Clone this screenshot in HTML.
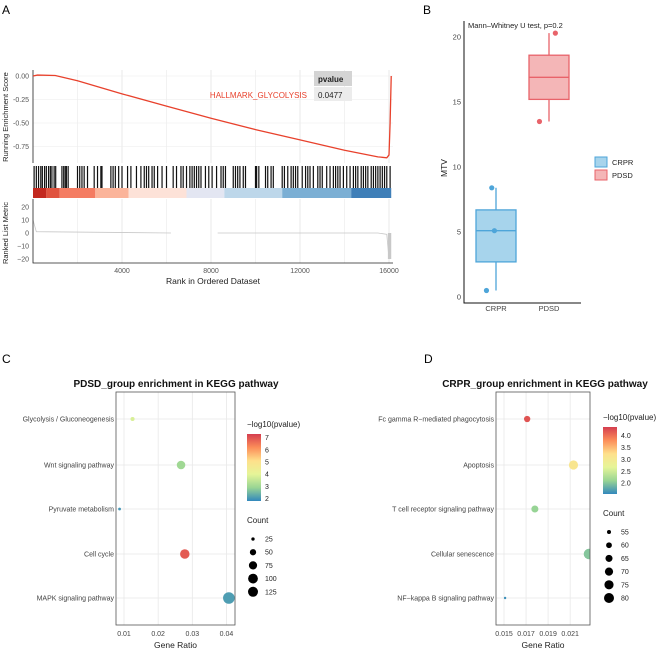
<!DOCTYPE html>
<html><head><meta charset="utf-8"><style>
body{margin:0;background:#fff;}
svg{display:block;font-family:"Liberation Sans",sans-serif;}
</style></head><body>
<svg id="s" width="669" height="651" viewBox="0 0 669 651">
<g id="A"></g>
<g id="B"></g>
<g id="C"></g>
<g id="D"></g>
</svg>
<script>
// ---- Panel A data ----
const esRanks=[0,200,1000,2000,4000,6000,8000,10000,12000,14000,15500,15900,16000,16050,16100];
const esScores=[0,0.01,0.005,-0.05,-0.19,-0.32,-0.45,-0.57,-0.68,-0.79,-0.86,-0.87,-0.84,-0.5,0.0];
const esTicks=[0,-0.25,-0.5,-0.75];
const esTickLabels=["0.00","-0.25","-0.50","-0.75"];
const rankTicks=[4000,8000,12000,16000];
const metricTicks=[20,10,0,-10,-20];
const hitRanks=[50,150,250,350,420,520,600,700,780,850,950,1020,1300,1380,1450,1500,1580,2000,2100,2200,2300,2450,2750,2900,3050,3100,3500,3600,3700,3850,4000,4250,4400,4650,4850,5000,5100,5200,5350,5450,5600,5800,6000,6300,6450,6650,6750,6900,7050,7150,7250,7350,7450,7550,7750,7900,8050,8250,8450,8550,8650,9000,9100,9200,9300,9450,9550,10000,10050,10150,10450,10550,10700,10800,11200,11300,11450,11600,11700,11800,11900,12100,12250,12350,12450,12600,12800,12900,13000,13200,13350,13500,13600,13700,13800,13950,14100,14250,14400,14500,14600,14750,14850,14950,15050,15200,15300,15400,15500,15600,15700,15800,15900,16050];
const bandStarts=[0,600,1200,2800,4300,6900,8600,11200,14300];
const bandColors=["#C3291F","#E0533F","#F47C62","#FBB49A","#FDE2D8","#E3E6F2","#BDD7EA","#7BAFD4","#3F7FB8"];
// ---- Panel B data ----
const groups=["CRPR","PDSD"];
const q1=[2.7,15.2],med=[5.1,16.9],q3=[6.7,18.6],wLo=[0.5,13.5],wHi=[8.4,20.3];
const ptGroup=[0,0,0,1,1];
const ptVal=[0.5,5.1,8.4,13.5,20.3];
const ptJitter=[-0.18,-0.03,-0.08,-0.18,0.12];
const mtvTicks=[0,5,10,15,20];
// ---- Panel C data ----
const cTerms=["Glycolysis / Gluconeogenesis","Wnt signaling pathway","Pyruvate metabolism","Cell cycle","MAPK signaling pathway"];
const cRatio=[0.0125,0.0267,0.0087,0.0278,0.0407];
const cLogP=[3.8,3.0,2.0,6.9,2.1];
const cCount=[30,80,22,95,135];
const cXTicks=[0.01,0.02,0.03,0.04];
const cColTicks=[2,3,4,5,6,7];
const cSizeTicks=[25,50,75,100,125];
// ---- Panel D data ----
const dTerms=["Fc gamma R\u2212mediated phagocytosis","Apoptosis","T cell receptor signaling pathway","Cellular senescence","NF\u2212kappa B signaling pathway"];
const dRatio=[0.0171,0.0213,0.0178,0.0227,0.0151];
const dLogP=[4.2,3.1,2.1,2.0,1.6];
const dCount=[62,75,65,82,52];
const dXTicks=[0.015,0.017,0.019,0.021];
const dColTicks=[2.0,2.5,3.0,3.5,4.0];
const dSizeTicks=[55,60,65,70,75,80];

const NS="http://www.w3.org/2000/svg";
function mk(p,tag,at,name,txt){const e=document.createElementNS(NS,tag);for(const k in at)e.setAttribute(k,at[k]);


if(txt!==undefined)e.textContent=txt;p.appendChild(e);return e;}
const A=document.getElementById('A'),B=document.getElementById('B'),C=document.getElementById('C'),D=document.getElementById('D');

mk(A,'text',{x:2,y:14,'font-size':12},'panel-label-a','A');
mk(B,'text',{x:423,y:14,'font-size':12},'panel-label-b','B');
mk(C,'text',{x:2,y:363,'font-size':12},'panel-label-c','C');
mk(D,'text',{x:424,y:363,'font-size':12},'panel-label-d','D');

// ---- Panel A ----
const ax=r=>33+r*(389-33)/16000;
const ay=v=>76-v*94;
const my=v=>233-v*1.3;
for(let r=2000;r<=16000;r+=2000){
 mk(A,'line',{x1:ax(r),x2:ax(r),y1:70,y2:163,stroke:'#e6e6e6','stroke-width':r%4000?0.5:0.9},'grid-es');
 mk(A,'line',{x1:ax(r),x2:ax(r),y1:199,y2:263,stroke:'#e6e6e6','stroke-width':r%4000?0.5:0.9},'grid-metric');
}
esTicks.forEach((t,i)=>{mk(A,'line',{x1:33,x2:393,y1:ay(t),y2:ay(t),stroke:'#ececec','stroke-width':0.6},'grid-es-h');
 mk(A,'text',{x:29,y:ay(t)+2.5,'font-size':7,fill:'#555','text-anchor':'end'},'es-tick-label',esTickLabels[i]);});
mk(A,'line',{x1:33,x2:33,y1:70,y2:163,stroke:'#222','stroke-width':0.8},'es-y-axis');
let d='';esRanks.forEach((r,i)=>{d+=(i?'L':'M')+ax(r)+','+ay(esScores[i]);});
mk(A,'path',{d:d,fill:'none',stroke:'#E8412C','stroke-width':1.3},'es-curve');
mk(A,'rect',{x:314,y:71,width:38,height:15,fill:'#d4d4d4'},'pvalue-header-cell');
mk(A,'text',{x:318,y:82,'font-size':8,'font-weight':'bold',fill:'#222'},'pvalue-header','pvalue');
mk(A,'rect',{x:314,y:87,width:38,height:14,fill:'#ececec'},'pvalue-value-cell');
mk(A,'text',{x:318,y:98,'font-size':8,fill:'#222'},'pvalue-value','0.0477');
mk(A,'text',{x:307,y:98,'font-size':8,fill:'#E8412C','text-anchor':'end'},'gene-set-name','HALLMARK_GLYCOLYSIS');
mk(A,'text',{transform:'translate(8,117) rotate(-90)','font-size':7.5,fill:'#222','text-anchor':'middle'},'es-y-title','Running Enrichment Score');
hitRanks.forEach(r=>mk(A,'line',{x1:ax(r),x2:ax(r),y1:166,y2:188,stroke:'#111','stroke-width':1.2},'hit-line'));
bandStarts.forEach((s,i)=>{const e=i<bandStarts.length-1?bandStarts[i+1]:16100;
 mk(A,'rect',{x:ax(s),y:188,width:ax(e)-ax(s),height:10,fill:bandColors[i]},'rank-band');});
mk(A,'path',{d:`M${ax(0)},${my(10)} L${ax(150)},${my(1)} L${ax(6200)},${my(0)} M${ax(8300)},${my(0)} L${ax(15500)},${my(0)} L${ax(15900)},${my(-1)} L${ax(16000)},${my(-20)}`,fill:'none',stroke:'#c8c8c8','stroke-width':0.8},'ranked-metric');
mk(A,'rect',{x:ax(15950),y:my(0),width:ax(16100)-ax(15950),height:my(-20)-my(0),fill:'#c8c8c8'},'ranked-metric-tail');
metricTicks.forEach(t=>mk(A,'text',{x:29,y:my(t)+2.5,'font-size':7,fill:'#555','text-anchor':'end'},'metric-tick-label',String(t).replace('-','\u2212')));
mk(A,'path',{d:'M33,199 L33,263 L393,263',fill:'none',stroke:'#222','stroke-width':0.8},'metric-axes');
rankTicks.forEach(t=>mk(A,'text',{x:ax(t),y:273,'font-size':7,fill:'#555','text-anchor':'middle'},'rank-tick-label',t));
mk(A,'text',{x:213,y:284,'font-size':8.5,fill:'#222','text-anchor':'middle'},'x-axis-title','Rank in Ordered Dataset');
mk(A,'text',{transform:'translate(8,233) rotate(-90)','font-size':7.5,fill:'#222','text-anchor':'middle'},'metric-y-title','Ranked List Metric');

// ---- Panel B ----
const bx=g=>496+g*53, by=v=>297-v*13;
const bStroke=['#4EA5D9','#E8636A'],bFill=['#A7D4EC','#F4B6B7'];
groups.forEach((g,i)=>{
 mk(B,'line',{x1:bx(i),x2:bx(i),y1:by(wLo[i]),y2:by(wHi[i]),stroke:bStroke[i],'stroke-width':1.3},'whisker-'+g);
 mk(B,'rect',{x:bx(i)-20,y:by(q3[i]),width:40,height:by(q1[i])-by(q3[i]),fill:bFill[i],stroke:bStroke[i],'stroke-width':1.3},'box-'+g);
 mk(B,'line',{x1:bx(i)-20,x2:bx(i)+20,y1:by(med[i]),y2:by(med[i]),stroke:bStroke[i],'stroke-width':1.3},'median-'+g);
 mk(B,'text',{x:bx(i),y:311,'font-size':7.5,fill:'#444','text-anchor':'middle'},'x-tick-label',g);
});
ptVal.forEach((v,i)=>mk(B,'circle',{cx:bx(ptGroup[i])+ptJitter[i]*53,cy:by(v),r:2.6,fill:bStroke[ptGroup[i]]},'point'));
mtvTicks.forEach(t=>mk(B,'text',{x:461,y:by(t)+2.5,'font-size':7.5,fill:'#444','text-anchor':'end'},'y-tick-label',t));
mk(B,'path',{d:'M464,21 L464,303 L581,303',fill:'none',stroke:'#111','stroke-width':1},'b-axes');
mk(B,'text',{x:468,y:28,'font-size':7.5,fill:'#222'},'test-annotation','Mann\u2013Whitney U test, p=0.2');
mk(B,'text',{transform:'translate(447,168) rotate(-90)','font-size':8.5,fill:'#222','text-anchor':'middle'},'y-axis-title','MTV');
groups.forEach((g,i)=>{mk(B,'rect',{x:595,y:157+i*13,width:12,height:10,fill:bFill[i],stroke:bStroke[i],'stroke-width':1},'legend-key-'+g);
 mk(B,'text',{x:612,y:165+i*13,'font-size':7.5,fill:'#222'},'legend-entry',g);});

// ---- colour/size helpers ----
const stops=['#3288BD','#99D594','#E6F598','#FEE08B','#FC8D59','#D53E4F'];
function hx(c){return [1,3,5].map(i=>parseInt(c.substr(i,2),16));}
function col(t){t=Math.max(0,Math.min(1,t));const p=t*(stops.length-1),i=Math.min(stops.length-2,Math.floor(p)),f=p-i;
 const a=hx(stops[i]),b=hx(stops[i+1]);return 'rgb('+a.map((v,k)=>Math.round(v+(b[k]-v)*f)).join(',')+')';}
function dot(P,cfg){
 const {x0,x1,terms,ratio,logp,count,xt,xtLab,xmin,xmax,pmin,pmax,cmin,cmax,rmin,rmax,title,tx,cbx,cbTop,cbBot,colT,sizeT,sizeY0,clip}=cfg;
 const rowY=[419,465,509,554,598];
 const X=v=>x0+(v-xmin)/(xmax-xmin)*(x1-x0);
 const R=c=>Math.sqrt(rmin*rmin+(c-cmin)/(cmax-cmin)*(rmax*rmax-rmin*rmin));
 mk(P,'text',{x:tx,y:387,'font-size':10,'font-weight':'bold',fill:'#111','text-anchor':'middle'},'chart-title',title);
 xt.forEach((t,i)=>{mk(P,'line',{x1:X(t),x2:X(t),y1:392,y2:625,stroke:'#e8e8e8','stroke-width':0.8},'grid-v');
  mk(P,'text',{x:X(t),y:636,'font-size':7,fill:'#444','text-anchor':'middle'},'x-tick-label',xtLab[i]);});
 terms.forEach((t,i)=>{mk(P,'line',{x1:x0-8,x2:x1,y1:rowY[i],y2:rowY[i],stroke:'#e8e8e8','stroke-width':0.8},'grid-h');
  mk(P,'text',{x:x0-10,y:rowY[i]+2.5,'font-size':7,fill:'#444','text-anchor':'end'},'y-tick-label',t);});
 const g=mk(P,'g',{'clip-path':'url(#'+clip+')'},'points');
 terms.forEach((t,i)=>mk(g,'circle',{cx:X(ratio[i]),cy:rowY[i],r:R(count[i]),fill:col((logp[i]-pmin)/(pmax-pmin))},'dot'));
 mk(P,'rect',{x:x0-8,y:392,width:x1-x0+8,height:233,fill:'none',stroke:'#555','stroke-width':0.8},'plot-border');
 mk(P,'text',{x:(x0+x1)/2-4,y:648,'font-size':8.5,fill:'#222','text-anchor':'middle'},'x-axis-title','Gene Ratio');
 const gid=clip+'g';const defs=mk(P,'defs',{},'defs');const lg=mk(defs,'linearGradient',{id:gid,x1:0,y1:1,x2:0,y2:0},'gradient');
 stops.forEach((s,i)=>mk(lg,'stop',{offset:i/(stops.length-1),'stop-color':s},'grad-stop'));
 const cp=mk(defs,'clipPath',{id:clip},'clip');mk(cp,'rect',{x:x0-8,y:392,width:x1-x0+8,height:233},'clip-rect');
 mk(P,'text',{x:cbx,y:cbTop-7,'font-size':8,fill:'#222'},'colorbar-title','\u2212log10(pvalue)');
 mk(P,'rect',{x:cbx,y:cbTop,width:14,height:cbBot-cbTop,fill:'url(#'+gid+')'},'colorbar');
 colT.forEach(t=>{const yy=cbBot-(t-pmin)/(pmax-pmin)*(cbBot-cbTop);
  mk(P,'text',{x:cbx+18,y:yy+2.5,'font-size':7,fill:'#222'},'colorbar-label',Number.isInteger(t)&&pmax>5?t:t.toFixed(1));});
 mk(P,'text',{x:cbx,y:sizeY0-10,'font-size':8,fill:'#222'},'size-legend-title','Count');
 sizeT.forEach((s,i)=>{const yy=sizeY0+6+i*13.2;
  mk(P,'circle',{cx:cbx+6,cy:yy,r:Math.min(R(s),5),fill:'#000'},'size-legend-dot');
  mk(P,'text',{x:cbx+18,y:yy+2.5,'font-size':7,fill:'#222'},'size-legend-label',s);});
}
dot(C,{x0:124,x1:235,terms:cTerms,ratio:cRatio,logp:cLogP,count:cCount,xt:cXTicks,xtLab:['0.01','0.02','0.03','0.04'],
 xmin:0.01,xmax:0.0425,pmin:1.8,pmax:7.3,cmin:20,cmax:135,rmin:1.2,rmax:5.8,title:'PDSD_group enrichment in KEGG pathway',tx:176,
 cbx:247,cbTop:434,cbBot:501,colT:cColTicks,sizeT:cSizeTicks,sizeY0:533,clip:'clipC'});
dot(D,{x0:504,x1:590,terms:dTerms,ratio:dRatio,logp:dLogP,count:dCount,xt:dXTicks,xtLab:['0.015','0.017','0.019','0.021'],
 xmin:0.015,xmax:0.0228,pmin:1.55,pmax:4.35,cmin:52,cmax:82,rmin:1.2,rmax:5.2,title:'CRPR_group enrichment in KEGG pathway',tx:545,
 cbx:603,cbTop:427,cbBot:494,colT:dColTicks,sizeT:dSizeTicks,sizeY0:526,clip:'clipD'});
</script>
</body></html>
